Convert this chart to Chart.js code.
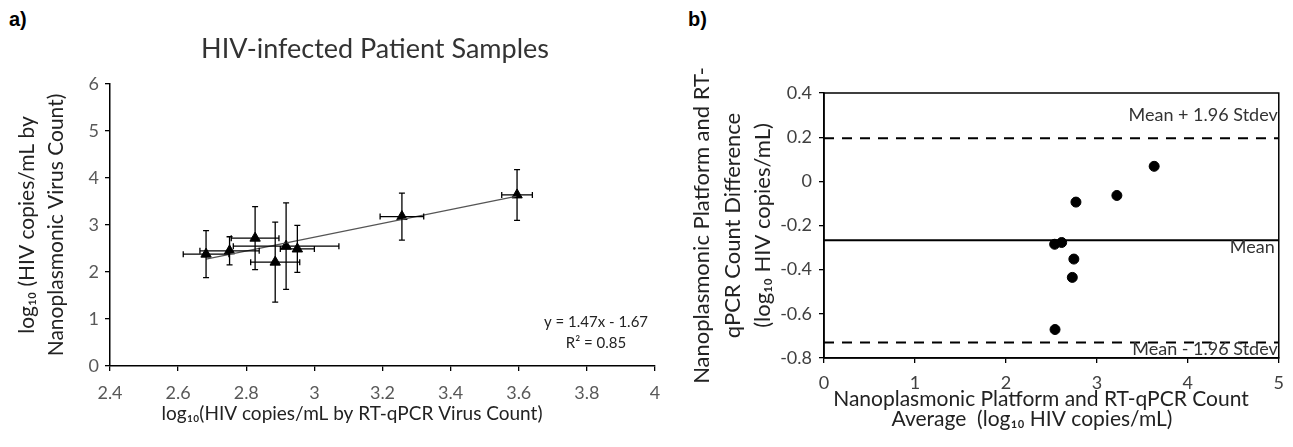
<!DOCTYPE html>
<html>
<head>
<meta charset="utf-8">
<script src="https://cdn.jsdelivr.net/npm/chart.js@4.4.1/dist/chart.umd.min.js"></script>
<style>
    body { margin: 0; background: #fff; }
    #wrap { position: relative; width: 1293px; height: 447px; overflow: hidden; }
    canvas { position: absolute; top: 0; }
    #correlation_chart { left: 0; }
    #bland_altman_chart { left: 680px; }
    .panel { position: absolute; top: 8px; font: bold 20px "Liberation Sans", Arial, sans-serif; color: #000; }
</style>
</head>
<body>
<div id="wrap">
    <div class="panel" style="left: 9px">a)</div>
    <div class="panel" style="left: 688px">b)</div>
    <canvas id="correlation_chart" width="680" height="447"></canvas>
    <canvas id="bland_altman_chart" width="613" height="447"></canvas>
</div>
<script>
const FONT = 'Lato, "Open Sans", sans-serif'

// panel a: nanoplasmonic vs RT-qPCR counts (log10 copies/mL), with SD error bars
const rtqpcrLog = [2.682, 2.751, 2.826, 2.885, 2.917, 2.95, 3.257, 3.595]
const rtqpcrErr = [0.067, 0.087, 0.07, 0.072, 0.155, 0.05, 0.064, 0.045]
const nanoLog = [2.38, 2.45, 2.72, 2.21, 2.55, 2.49, 3.18, 3.64]
const nanoErr = [0.5, 0.3, 0.67, 0.85, 0.92, 0.5, 0.5, 0.54]
const fitSlope = 1.47
const fitIntercept = -1.67
const fitR2 = 0.85

// panel b: Bland-Altman, average vs difference
const countAverage = [3.63, 3.22, 2.77, 2.536, 2.613, 2.747, 2.73, 2.54]
const countDifference = [0.068, -0.064, -0.094, -0.285, -0.277, -0.352, -0.435, -0.671]
const meanDiff = -0.267
const sdDiff = 0.236

const xMin = Math.min(...rtqpcrLog)
const xMax = Math.max(...rtqpcrLog)
const fitLine = [xMin, xMax].map(x => ({ x: x, y: fitSlope * x + fitIntercept }))
const upperLimit = meanDiff + 1.96 * sdDiff
const lowerLimit = meanDiff - 1.96 * sdDiff

// error bars with small caps, drawn from the data through the chart scales
const errorBars = {
    id: 'errorBars',
    afterDatasetsDraw(chart) {
        const { ctx, scales: { x, y } } = chart
        const cap = 3
        ctx.save()
        ctx.strokeStyle = '#000'
        ctx.lineWidth = 1.3
        rtqpcrLog.forEach((xv, i) => {
            const yv = nanoLog[i]
            const px = x.getPixelForValue(xv)
            const py = y.getPixelForValue(yv)
            const top = y.getPixelForValue(yv + nanoErr[i])
            const bottom = y.getPixelForValue(yv - nanoErr[i])
            const left = x.getPixelForValue(xv - rtqpcrErr[i])
            const right = x.getPixelForValue(xv + rtqpcrErr[i])
            ctx.beginPath()
            ctx.moveTo(px, top); ctx.lineTo(px, bottom)
            ctx.moveTo(px - cap, top); ctx.lineTo(px + cap, top)
            ctx.moveTo(px - cap, bottom); ctx.lineTo(px + cap, bottom)
            ctx.moveTo(left, py); ctx.lineTo(right, py)
            ctx.moveTo(left, py - cap); ctx.lineTo(left, py + cap)
            ctx.moveTo(right, py - cap); ctx.lineTo(right, py + cap)
            ctx.stroke()
        })
        ctx.restore()
    }
}

// title, x axis title and regression equation for panel a
const correlationText = {
    id: 'correlationText',
    afterDraw(chart) {
        const { ctx } = chart
        ctx.save()
        ctx.textAlign = 'center'
        ctx.textBaseline = 'middle'
        ctx.font = '27px ' + FONT
        ctx.fillStyle = '#333'
        ctx.fillText('HIV-infected Patient Samples', 375, 49)

        ctx.font = '19px ' + FONT
        ctx.fillStyle = '#222'
        ctx.fillText('log₁₀(HIV copies/mL by RT-qPCR Virus Count)', 352, 414)

        ctx.font = '15px ' + FONT
        ctx.fillText('y = ' + fitSlope + 'x - ' + Math.abs(fitIntercept), 596, 322)
        ctx.fillText('R² = ' + fitR2, 596, 343)
        ctx.restore()
    }
}

const plotBox = {
    id: 'plotBox',
    afterDraw(chart) {
        const { ctx, chartArea: a } = chart
        ctx.save()
        ctx.strokeStyle = '#000'
        ctx.lineWidth = 1.5
        ctx.strokeRect(a.left, a.top, a.right - a.left, a.bottom - a.top)
        ctx.restore()
    }
}

// limit line labels and x axis title for panel b
const blandAltmanText = {
    id: 'blandAltmanText',
    afterDraw(chart) {
        const { ctx, chartArea: a, scales: { y } } = chart
        ctx.save()
        ctx.font = '18px ' + FONT
        ctx.fillStyle = '#333'
        ctx.textAlign = 'right'
        ctx.textBaseline = 'middle'
        ctx.fillText('Mean + 1.96 Stdev', a.right - 1, y.getPixelForValue(upperLimit) - 23)
        ctx.fillText('Mean', a.right - 4, y.getPixelForValue(meanDiff) + 7)
        ctx.fillText('Mean - 1.96 Stdev', a.right - 1, y.getPixelForValue(lowerLimit) + 7)

        ctx.textAlign = 'center'
        ctx.font = '21px ' + FONT
        ctx.fillStyle = '#222'
        ctx.fillText('Nanoplasmonic Platform and RT-qPCR Count', 361, 399)
        ctx.fillText('Average  (log₁₀ HIV copies/mL)', 352, 419)
        ctx.restore()
    }
}

function axisGrid() {
    return { drawOnChartArea: false, tickLength: 5, color: '#000', lineWidth: 1.3 }
}

new Chart(document.getElementById('correlation_chart'), {
    type: 'scatter',
    data: {
        datasets: [{
            type: 'line',
            data: fitLine,
            borderColor: '#555',
            borderWidth: 1.2,
            pointRadius: 0,
        }, {
            data: rtqpcrLog.map((x, i) => ({ x: x, y: nanoLog[i] })),
            pointStyle: 'triangle',
            pointRadius: 6,
            backgroundColor: '#000',
            borderColor: '#000',
        }]
    },
    options: {
        responsive: false,
        animation: false,
        layout: { padding: { top: 84, right: 25, left: 0, bottom: 0 } },
        plugins: { legend: { display: false }, tooltip: { enabled: false } },
        scales: {
            x: {
                type: 'linear', min: 2.4, max: 4,
                ticks: { stepSize: 0.2, color: '#595959', font: { family: FONT, size: 18 }, padding: 11,
                    callback: v => +v.toFixed(1) },
                grid: axisGrid(),
                border: { color: '#000', width: 1.5 },
                afterFit: scale => { scale.height = 81 }
            },
            y: {
                min: 0, max: 6,
                ticks: { stepSize: 1, color: '#595959', font: { family: FONT, size: 18 }, padding: 6 },
                grid: axisGrid(),
                border: { color: '#000', width: 1.5 },
                title: { display: true, text: ['log₁₀ (HIV copies/mL by', 'Nanoplasmonic Virus Count)'], color: '#222',
                    font: { family: FONT, size: 21, lineHeight: '29px' }, padding: { top: 13, bottom: 0 } },
                afterFit: scale => { scale.width = 110 }
            }
        }
    },
    plugins: [errorBars, correlationText]
})

new Chart(document.getElementById('bland_altman_chart'), {
    type: 'scatter',
    data: {
        datasets: [{
            type: 'line',
            data: [{ x: 0, y: upperLimit }, { x: 5, y: upperLimit }],
            borderColor: '#000', borderWidth: 2, borderDash: [10, 8], pointRadius: 0,
        }, {
            type: 'line',
            data: [{ x: 0, y: meanDiff }, { x: 5, y: meanDiff }],
            borderColor: '#000', borderWidth: 2, pointRadius: 0,
        }, {
            type: 'line',
            data: [{ x: 0, y: lowerLimit }, { x: 5, y: lowerLimit }],
            borderColor: '#000', borderWidth: 2, borderDash: [10, 8], pointRadius: 0,
        }, {
            data: countAverage.map((x, i) => ({ x: x, y: countDifference[i] })),
            pointRadius: 5,
            backgroundColor: '#000',
            borderColor: '#000',
        }]
    },
    options: {
        responsive: false,
        animation: false,
        layout: { padding: { top: 93, right: 11, left: 0, bottom: 0 } },
        plugins: { legend: { display: false }, tooltip: { enabled: false } },
        scales: {
            x: {
                type: 'linear', min: 0, max: 5,
                ticks: { stepSize: 1, color: '#404040', font: { family: FONT, size: 18 }, padding: 9 },
                grid: axisGrid(),
                border: { color: '#000', width: 1.5 },
                afterFit: scale => { scale.height = 89 }
            },
            y: {
                min: -0.8, max: 0.4,
                ticks: { stepSize: 0.2, color: '#404040', font: { family: FONT, size: 18 }, padding: 7,
                    callback: v => +v.toFixed(1) },
                grid: axisGrid(),
                border: { color: '#000', width: 1.5 },
                title: { display: true, text: ['Nanoplasmonic Platform and RT-', 'qPCR Count Difference', '(log₁₀ HIV copies/mL)'],
                    color: '#222', font: { family: FONT, size: 22, lineHeight: '30.5px' }, padding: { top: 7, bottom: 0 } },
                afterFit: scale => { scale.width = 144 }
            }
        }
    },
    plugins: [plotBox, blandAltmanText]
})
</script>
</body>
</html>
